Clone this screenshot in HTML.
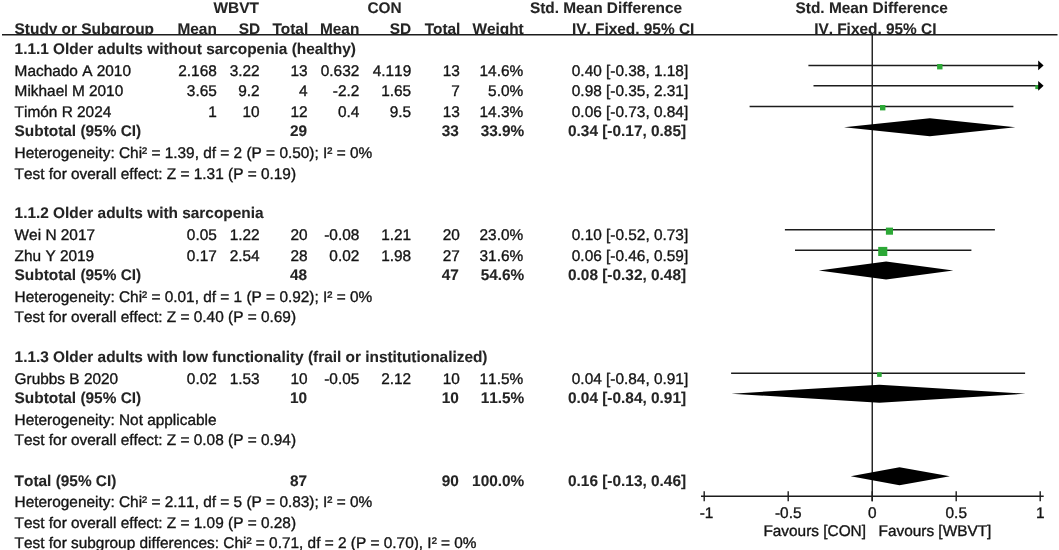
<!DOCTYPE html>
<html><head><meta charset="utf-8"><title>Forest plot</title>
<style>
html,body{margin:0;padding:0;background:#fff;}
body{width:1059px;height:550px;overflow:hidden;}
svg{display:block;}
text{font-family:"Liberation Sans",sans-serif;font-size:15.4px;fill:#141414;font-kerning:none;text-rendering:geometricPrecision;stroke:#141414;stroke-width:0.35px;stroke-linejoin:round;}
text.b{font-weight:bold;fill:#242424;stroke:#242424;stroke-width:0.1px;}
text.k{font-kerning:normal;}
</style></head><body>
<svg width="1059" height="550" viewBox="0 0 1059 550">
<rect width="1059" height="550" fill="#fff"/>
<text x="236.20" y="12.90" text-anchor="middle" class="b">WBVT</text>
<text x="384.50" y="12.90" text-anchor="middle" class="b">CON</text>
<text x="606.00" y="12.70" text-anchor="middle" class="b">Std. Mean Difference</text>
<text x="871.70" y="12.70" text-anchor="middle" class="b">Std. Mean Difference</text>
<text x="14.60" y="33.70" class="b">Study or Subgroup</text>
<text x="216.80" y="33.70" text-anchor="end" class="b">Mean</text>
<text x="260.20" y="33.70" text-anchor="end" class="b">SD</text>
<text x="308.20" y="33.70" text-anchor="end" class="b k">Total</text>
<text x="359.30" y="33.70" text-anchor="end" class="b">Mean</text>
<text x="411.20" y="33.70" text-anchor="end" class="b">SD</text>
<text x="460.40" y="33.70" text-anchor="end" class="b k">Total</text>
<text x="523.70" y="33.70" text-anchor="end" class="b">Weight</text>
<text x="694.30" y="33.70" text-anchor="end" class="b">IV, Fixed, 95% CI</text>
<text x="875.30" y="33.70" text-anchor="middle" class="b">IV, Fixed, 95% CI</text>
<rect x="0" y="35" width="1059" height="7" fill="#fff"/>
<line x1="2" y1="34.8" x2="1057.5" y2="34.8" stroke="#1c1c1c" stroke-width="1.6"/>
<text x="14.60" y="53.80" class="b">1.1.1 Older adults without sarcopenia (healthy)</text>
<text x="14.60" y="75.90">Machado A 2010</text>
<text x="216.80" y="75.90" text-anchor="end">2.168</text>
<text x="259.60" y="75.90" text-anchor="end">3.22</text>
<text x="307.60" y="75.90" text-anchor="end">13</text>
<text x="359.30" y="75.90" text-anchor="end">0.632</text>
<text x="411.20" y="75.90" text-anchor="end">4.119</text>
<text x="459.80" y="75.90" text-anchor="end">13</text>
<text x="523.20" y="75.90" text-anchor="end">14.6%</text>
<text x="688.20" y="75.90" text-anchor="end">0.40 [-0.38, 1.18]</text>
<text x="14.60" y="96.30">Mikhael M 2010</text>
<text x="216.80" y="96.30" text-anchor="end">3.65</text>
<text x="259.60" y="96.30" text-anchor="end">9.2</text>
<text x="307.60" y="96.30" text-anchor="end">4</text>
<text x="359.30" y="96.30" text-anchor="end">-2.2</text>
<text x="411.20" y="96.30" text-anchor="end">1.65</text>
<text x="459.80" y="96.30" text-anchor="end">7</text>
<text x="523.20" y="96.30" text-anchor="end">5.0%</text>
<text x="688.20" y="96.30" text-anchor="end">0.98 [-0.35, 2.31]</text>
<text x="14.60" y="116.90">Timón R 2024</text>
<text x="216.80" y="116.90" text-anchor="end">1</text>
<text x="259.60" y="116.90" text-anchor="end">10</text>
<text x="307.60" y="116.90" text-anchor="end">12</text>
<text x="359.30" y="116.90" text-anchor="end">0.4</text>
<text x="411.20" y="116.90" text-anchor="end">9.5</text>
<text x="459.80" y="116.90" text-anchor="end">13</text>
<text x="523.20" y="116.90" text-anchor="end">14.3%</text>
<text x="688.20" y="116.90" text-anchor="end">0.06 [-0.73, 0.84]</text>
<text x="14.60" y="136.40" class="b">Subtotal (95% CI)</text>
<text x="307.20" y="136.40" text-anchor="end" class="b">29</text>
<text x="458.80" y="136.40" text-anchor="end" class="b">33</text>
<text x="524.30" y="136.40" text-anchor="end" class="b">33.9%</text>
<text x="686.10" y="136.40" text-anchor="end" class="b">0.34 [-0.17, 0.85]</text>
<text x="14.60" y="158.30">Heterogeneity: Chi² = 1.39, df = 2 (P = 0.50); I² = 0%</text>
<text x="14.60" y="178.50">Test for overall effect: Z = 1.31 (P = 0.19)</text>
<text x="14.60" y="218.20" class="b">1.1.2 Older adults with sarcopenia</text>
<text x="14.60" y="240.30">Wei N 2017</text>
<text x="216.80" y="240.30" text-anchor="end">0.05</text>
<text x="259.60" y="240.30" text-anchor="end">1.22</text>
<text x="307.60" y="240.30" text-anchor="end">20</text>
<text x="359.30" y="240.30" text-anchor="end">-0.08</text>
<text x="411.20" y="240.30" text-anchor="end">1.21</text>
<text x="459.80" y="240.30" text-anchor="end">20</text>
<text x="523.20" y="240.30" text-anchor="end">23.0%</text>
<text x="688.20" y="240.30" text-anchor="end">0.10 [-0.52, 0.73]</text>
<text x="14.60" y="260.70">Zhu Y 2019</text>
<text x="216.80" y="260.70" text-anchor="end">0.17</text>
<text x="259.60" y="260.70" text-anchor="end">2.54</text>
<text x="307.60" y="260.70" text-anchor="end">28</text>
<text x="359.30" y="260.70" text-anchor="end">0.02</text>
<text x="411.20" y="260.70" text-anchor="end">1.98</text>
<text x="459.80" y="260.70" text-anchor="end">27</text>
<text x="523.20" y="260.70" text-anchor="end">31.6%</text>
<text x="688.20" y="260.70" text-anchor="end">0.06 [-0.46, 0.59]</text>
<text x="14.60" y="279.60" class="b">Subtotal (95% CI)</text>
<text x="307.20" y="279.60" text-anchor="end" class="b">48</text>
<text x="458.80" y="279.60" text-anchor="end" class="b">47</text>
<text x="524.30" y="279.60" text-anchor="end" class="b">54.6%</text>
<text x="686.10" y="279.60" text-anchor="end" class="b">0.08 [-0.32, 0.48]</text>
<text x="14.60" y="301.60">Heterogeneity: Chi² = 0.01, df = 1 (P = 0.92); I² = 0%</text>
<text x="14.60" y="322.00">Test for overall effect: Z = 0.40 (P = 0.69)</text>
<text x="14.60" y="361.80" class="b">1.1.3 Older adults with low functionality (frail or institutionalized)</text>
<text x="14.60" y="383.80">Grubbs B 2020</text>
<text x="216.80" y="383.80" text-anchor="end">0.02</text>
<text x="259.60" y="383.80" text-anchor="end">1.53</text>
<text x="307.60" y="383.80" text-anchor="end">10</text>
<text x="359.30" y="383.80" text-anchor="end">-0.05</text>
<text x="411.20" y="383.80" text-anchor="end">2.12</text>
<text x="459.80" y="383.80" text-anchor="end">10</text>
<text x="523.20" y="383.80" text-anchor="end">11.5%</text>
<text x="688.20" y="383.80" text-anchor="end">0.04 [-0.84, 0.91]</text>
<text x="14.60" y="402.90" class="b">Subtotal (95% CI)</text>
<text x="307.20" y="402.90" text-anchor="end" class="b">10</text>
<text x="458.80" y="402.90" text-anchor="end" class="b">10</text>
<text x="524.30" y="402.90" text-anchor="end" class="b">11.5%</text>
<text x="686.10" y="402.90" text-anchor="end" class="b">0.04 [-0.84, 0.91]</text>
<text x="14.60" y="425.00">Heterogeneity: Not applicable</text>
<text x="14.60" y="445.40">Test for overall effect: Z = 0.08 (P = 0.94)</text>
<text x="14.60" y="485.50" class="b">Total (95% CI)</text>
<text x="307.20" y="485.50" text-anchor="end" class="b">87</text>
<text x="458.80" y="485.50" text-anchor="end" class="b">90</text>
<text x="524.30" y="485.50" text-anchor="end" class="b">100.0%</text>
<text x="686.10" y="485.50" text-anchor="end" class="b">0.16 [-0.13, 0.46]</text>
<text x="14.60" y="507.20">Heterogeneity: Chi² = 2.11, df = 5 (P = 0.83); I² = 0%</text>
<text x="14.60" y="527.70">Test for overall effect: Z = 1.09 (P = 0.28)</text>
<text x="14.60" y="548.30">Test for subgroup differences: Chi² = 0.71, df = 2 (P = 0.70), I² = 0%</text>
<text x="706.55" y="517.50" text-anchor="middle">-1</text>
<text x="788.25" y="517.50" text-anchor="middle">-0.5</text>
<text x="872.25" y="517.50" text-anchor="middle">0</text>
<text x="956.25" y="517.50" text-anchor="middle">0.5</text>
<text x="1040.25" y="517.50" text-anchor="middle">1</text>
<text x="866.00" y="536.40" text-anchor="end" class="k">Favours [CON]</text>
<text x="878.50" y="536.40" class="k">Favours [WBVT]</text>
<line x1="872.25" y1="34.8" x2="872.25" y2="501.3" stroke="#1c1c1c" stroke-width="1.4"/>
<line x1="701" y1="496.3" x2="1043.7" y2="496.3" stroke="#1c1c1c" stroke-width="1.5"/>
<line x1="704.2" y1="491.3" x2="704.2" y2="501.3" stroke="#1c1c1c" stroke-width="1.4"/>
<line x1="788.2" y1="491.3" x2="788.2" y2="501.3" stroke="#1c1c1c" stroke-width="1.4"/>
<line x1="872.2" y1="491.3" x2="872.2" y2="501.3" stroke="#1c1c1c" stroke-width="1.4"/>
<line x1="956.2" y1="491.3" x2="956.2" y2="501.3" stroke="#1c1c1c" stroke-width="1.4"/>
<line x1="1040.2" y1="491.3" x2="1040.2" y2="501.3" stroke="#1c1c1c" stroke-width="1.4"/>
<line x1="808.4" y1="65.4" x2="1039.0" y2="65.4" stroke="#1c1c1c" stroke-width="1.5"/>
<rect x="937.1" y="64.0" width="5.4" height="5.4" fill="#2ca836"/>
<polygon points="1038.2,60.5 1043.6,65.4 1038.2,70.3" fill="#000"/>
<line x1="813.5" y1="85.8" x2="1039.0" y2="85.8" stroke="#1c1c1c" stroke-width="1.5"/>
<rect x="1035.3" y="85.1" width="4" height="4" fill="#2ca836"/>
<polygon points="1038.2,80.9 1043.6,85.8 1038.2,90.7" fill="#000"/>
<line x1="749.6" y1="106.4" x2="1013.4" y2="106.4" stroke="#1c1c1c" stroke-width="1.5"/>
<rect x="880.0" y="105.0" width="5.4" height="5.4" fill="#2ca836"/>
<polygon points="844.0,127.2 929.8,118.2 1015.4,127.2 929.8,136.2" fill="#000"/>
<line x1="784.9" y1="229.8" x2="994.9" y2="229.8" stroke="#1c1c1c" stroke-width="1.5"/>
<rect x="885.9" y="227.6" width="7.1" height="7.1" fill="#2ca836"/>
<line x1="795.0" y1="250.2" x2="971.4" y2="250.2" stroke="#1c1c1c" stroke-width="1.5"/>
<rect x="878.2" y="246.9" width="9.1" height="9.1" fill="#2ca836"/>
<polygon points="818.8,270.4 886.1,261.4 953.3,270.4 886.1,279.4" fill="#000"/>
<line x1="731.1" y1="373.3" x2="1025.1" y2="373.3" stroke="#1c1c1c" stroke-width="1.5"/>
<rect x="877.1" y="372.3" width="4.6" height="4.6" fill="#2ca836"/>
<polygon points="731.4,393.7 879.4,384.7 1025.5,393.7 879.4,402.7" fill="#000"/>
<polygon points="850.7,476.3 899.5,467.3 949.9,476.3 899.5,485.3" fill="#000"/>
</svg>
</body></html>
